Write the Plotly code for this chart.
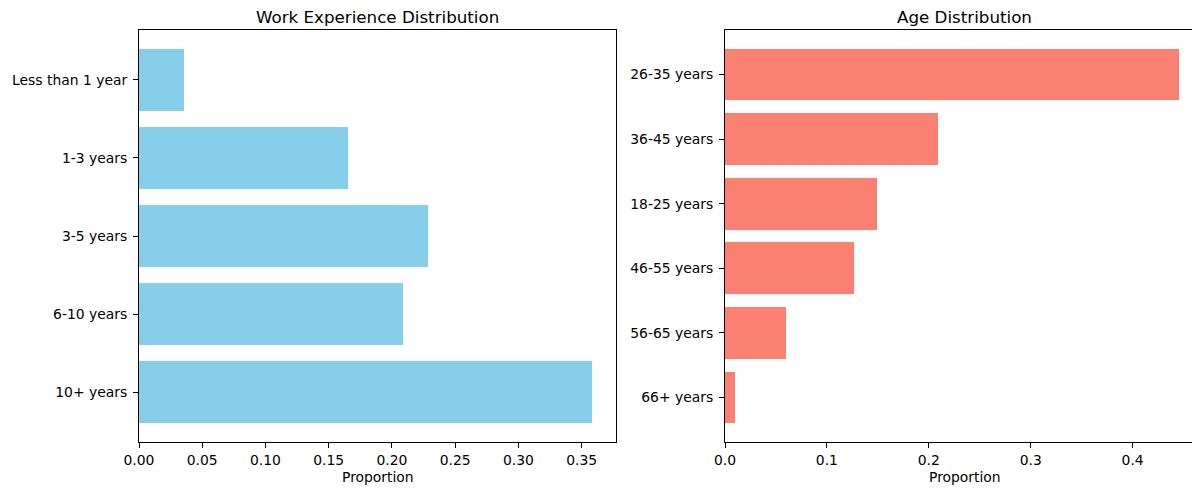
import plotly.graph_objects as go

exp_labels = ["Less than 1 year", "1-3 years", "3-5 years", "6-10 years", "10+ years"]
exp_values = [0.0356, 0.1650, 0.2287, 0.2085, 0.3584]

age_labels = ["26-35 years", "36-45 years", "18-25 years", "46-55 years", "56-65 years", "66+ years"]
age_values = [0.4458, 0.2094, 0.1494, 0.1263, 0.0595, 0.0095]

# page body has an 8px margin, so the figure is drawn 8px smaller and offset
OFF = 8
W, H = 1200 - OFF, 488 - OFF
FONT = "DejaVu Sans"


def px(x):
    return (x - OFF) / W


def py(y):
    return 1 - (y - OFF) / H


fig = go.Figure()
fig.add_trace(go.Bar(x=exp_values, y=exp_labels, orientation="h", width=0.8,
                     marker=dict(color="#87CEEB", line=dict(width=0)),
                     xaxis="x", yaxis="y", showlegend=False))
fig.add_trace(go.Bar(x=age_values, y=age_labels, orientation="h", width=0.8,
                     marker=dict(color="#FA8072", line=dict(width=0)),
                     xaxis="x2", yaxis="y2", showlegend=False))

ydom = [py(442), py(30)]
ax_common = dict(showline=True, linecolor="black", linewidth=1, ticks="outside",
                 ticklen=5, tickwidth=1, tickcolor="black", showgrid=False,
                 zeroline=False, automargin=False,
                 tickfont=dict(family=FONT, size=13.9, color="black"))

fig.update_layout(
    width=W, height=H, margin=dict(l=0, r=0, t=0, b=0, autoexpand=False),
    plot_bgcolor="white", paper_bgcolor="white", bargap=0,
    font=dict(family=FONT, color="black"),
    xaxis=dict(domain=[px(139), px(616)], range=[0, 0.3771], dtick=0.05, tick0=0,
               tickformat=".2f", mirror=True, anchor="y", **ax_common),
    yaxis=dict(domain=ydom, type="category", categoryorder="array", categoryarray=exp_labels,
               range=[4.64, -0.64], mirror=True, anchor="x", ticklabelstandoff=3, **ax_common),
    xaxis2=dict(domain=[px(725), 1.0], range=[0, 0.4661], dtick=0.1, tick0=0,
                tickformat=".1f", mirror=True, anchor="y2", **ax_common),
    yaxis2=dict(domain=ydom, type="category", categoryorder="array", categoryarray=age_labels,
                range=[5.69, -0.69], mirror=False, anchor="x2", ticklabelstandoff=3, **ax_common),
    annotations=[
        dict(text="Work Experience Distribution", x=px((139 + 616) / 2), y=py(17),
             xref="paper", yref="paper", showarrow=False, xanchor="center", yanchor="middle",
             borderpad=0, font=dict(family=FONT, size=16.7, color="black")),
        dict(text="Age Distribution", x=px((725 + 1204) / 2), y=py(17),
             xref="paper", yref="paper", showarrow=False, xanchor="center", yanchor="middle",
             borderpad=0, font=dict(family=FONT, size=16.7, color="black")),
        dict(text="Proportion", x=px((139 + 616) / 2), y=py(477),
             xref="paper", yref="paper", showarrow=False, xanchor="center", yanchor="middle",
             font=dict(family=FONT, size=13.9, color="black")),
        dict(text="Proportion", x=px((725 + 1204) / 2), y=py(477),
             xref="paper", yref="paper", showarrow=False, xanchor="center", yanchor="middle",
             font=dict(family=FONT, size=13.9, color="black")),
    ],
)

fig.write_html("out.html")
